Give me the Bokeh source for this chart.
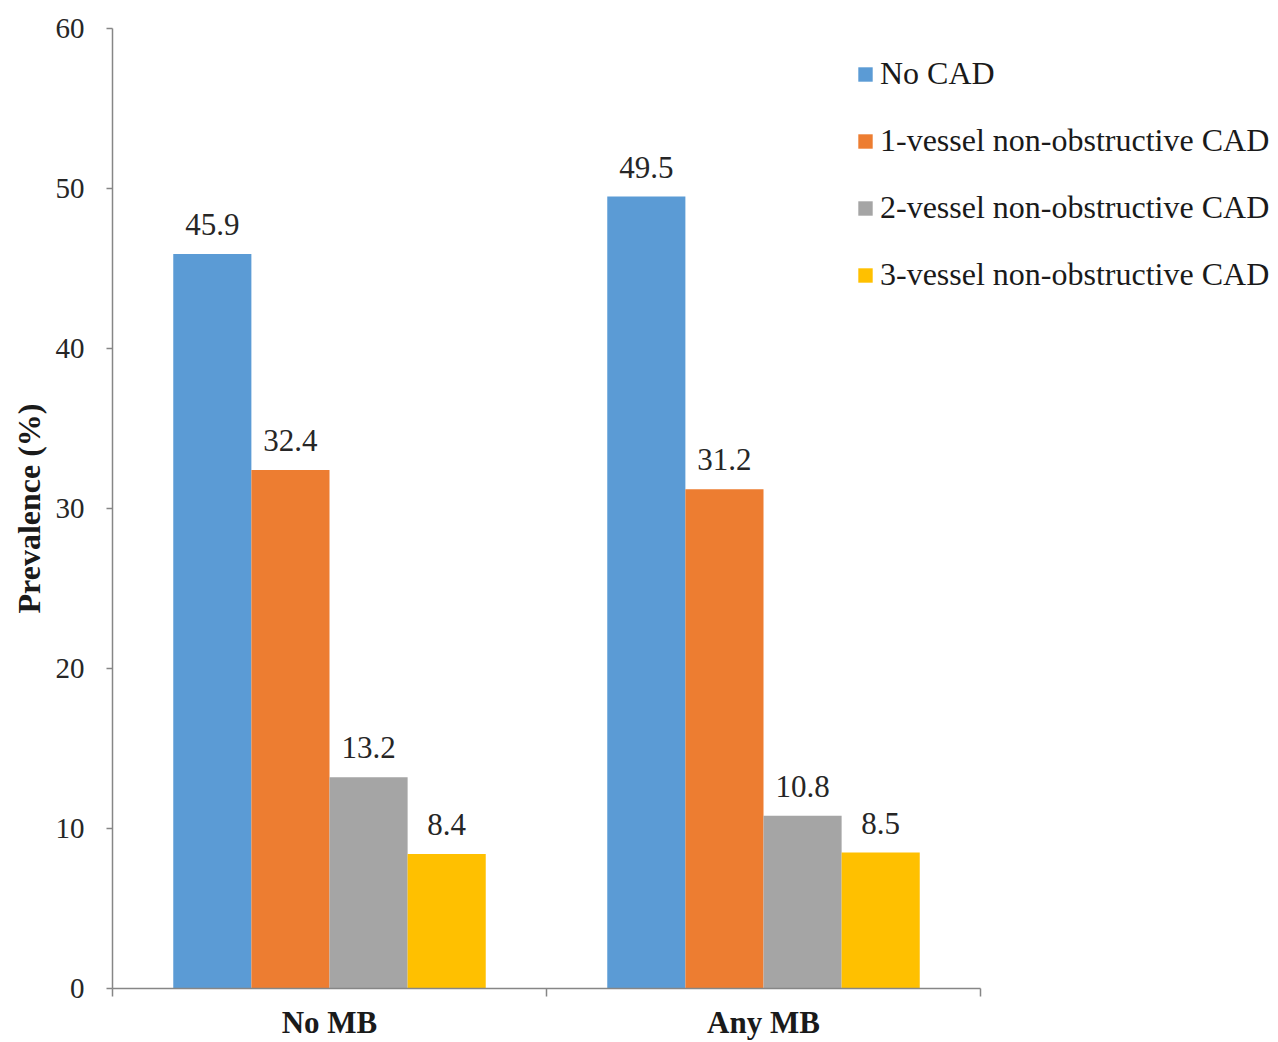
from bokeh.plotting import figure
from bokeh.models import (Range1d, FixedTicker, ColumnDataSource, LabelSet, Legend, LegendItem)
from bokeh.transform import dodge
from bokeh.embed import file_html
from bokeh.resources import INLINE

groups = ["No MB", "Any MB"]
series = ["No CAD", "1-vessel non-obstructive CAD", "2-vessel non-obstructive CAD", "3-vessel non-obstructive CAD"]
no_cad = [45.9, 49.5]
one_vessel = [32.4, 31.2]
two_vessel = [13.2, 10.8]
three_vessel = [8.4, 8.5]
colors = ["#5B9BD5", "#ED7D31", "#A5A5A5", "#FFC000"]
y_ticks = [0, 10, 20, 30, 40, 50, 60]

FONT = "Liberation Serif"

# frame spans 112..1278 px; category axis occupies 112..980 px
x_end = len(groups) * (1278 - 112) / (980 - 112)

p = figure(width=1278, height=1042, output_backend="svg", toolbar_location=None,
           x_range=Range1d(0, x_end), y_range=Range1d(0, 60),
           min_border_left=112, min_border_right=0, min_border_top=28, min_border_bottom=51)
p.outline_line_color = None
p.xgrid.visible = False
p.ygrid.visible = False
p.background_fill_color = "white"
p.border_fill_color = "white"

centers = [i + 0.5 for i in range(len(groups))]
src = ColumnDataSource(dict(x=centers, s0=no_cad, s1=one_vessel, s2=two_vessel, s3=three_vessel,
                            l0=[f"{v}" for v in no_cad], l1=[f"{v}" for v in one_vessel],
                            l2=[f"{v}" for v in two_vessel], l3=[f"{v}" for v in three_vessel]))

w = 0.18
offsets = [-1.5 * w, -0.5 * w, 0.5 * w, 1.5 * w]
items = []
for k in range(4):
    r = p.vbar(x=dodge("x", offsets[k], range=p.x_range), top=f"s{k}", width=w, bottom=0,
               source=src, fill_color=colors[k], line_color=None)
    items.append(LegendItem(label=series[k], renderers=[r]))
    lbl = LabelSet(x=dodge("x", offsets[k], range=p.x_range), y=f"s{k}", text=f"l{k}", source=src,
                   text_align="center", text_baseline="bottom", y_offset=19,
                   text_font=FONT, text_font_size="31px", text_color="#262626")
    p.add_layout(lbl)

# axes
p.xaxis.bounds = (0, len(groups))
p.xaxis.ticker = FixedTicker(ticks=centers, minor_ticks=list(range(len(groups) + 1)))
p.xaxis.major_label_overrides = {c: g for c, g in zip(centers, groups)}
p.xaxis.major_tick_line_color = None
p.xaxis.minor_tick_in = 0
p.xaxis.minor_tick_out = 8
p.xaxis.minor_tick_line_color = "#868686"
p.xaxis.minor_tick_line_width = 1.5
p.xaxis.axis_line_color = "#868686"
p.xaxis.axis_line_width = 1.5
p.xaxis.major_label_text_font = FONT
p.xaxis.major_label_text_font_style = "bold"
p.xaxis.major_label_text_font_size = "31px"
p.xaxis.major_label_text_color = "#1a1a1a"
p.xaxis.major_label_standoff = 8

p.yaxis.ticker = FixedTicker(ticks=y_ticks, minor_ticks=[])
p.yaxis.major_tick_in = 0
p.yaxis.major_tick_out = 6
p.yaxis.major_tick_line_color = "#868686"
p.yaxis.major_tick_line_width = 1.5
p.yaxis.axis_line_color = "#868686"
p.yaxis.axis_line_width = 1.5
p.yaxis.major_label_text_font = FONT
p.yaxis.major_label_text_font_size = "29px"
p.yaxis.major_label_text_color = "#262626"
p.yaxis.major_label_standoff = 22
p.yaxis.axis_label = "Prevalence (%)"
p.yaxis.axis_label_text_font = FONT
p.yaxis.axis_label_text_font_style = "bold"
p.yaxis.axis_label_text_font_size = "32px"
p.yaxis.axis_label_text_color = "#1a1a1a"
p.yaxis.axis_label_standoff = 6

legend = Legend(items=items, location=(744, 695), orientation="vertical",
                label_text_font=FONT, label_text_font_size="32px", label_text_color="#1a1a1a",
                glyph_width=18, glyph_height=18, label_standoff=6, label_height=36, spacing=30,
                padding=0, margin=0, background_fill_alpha=0, border_line_color=None)
p.add_layout(legend, "center")

open("out.html", "w").write(file_html(p, INLINE))
